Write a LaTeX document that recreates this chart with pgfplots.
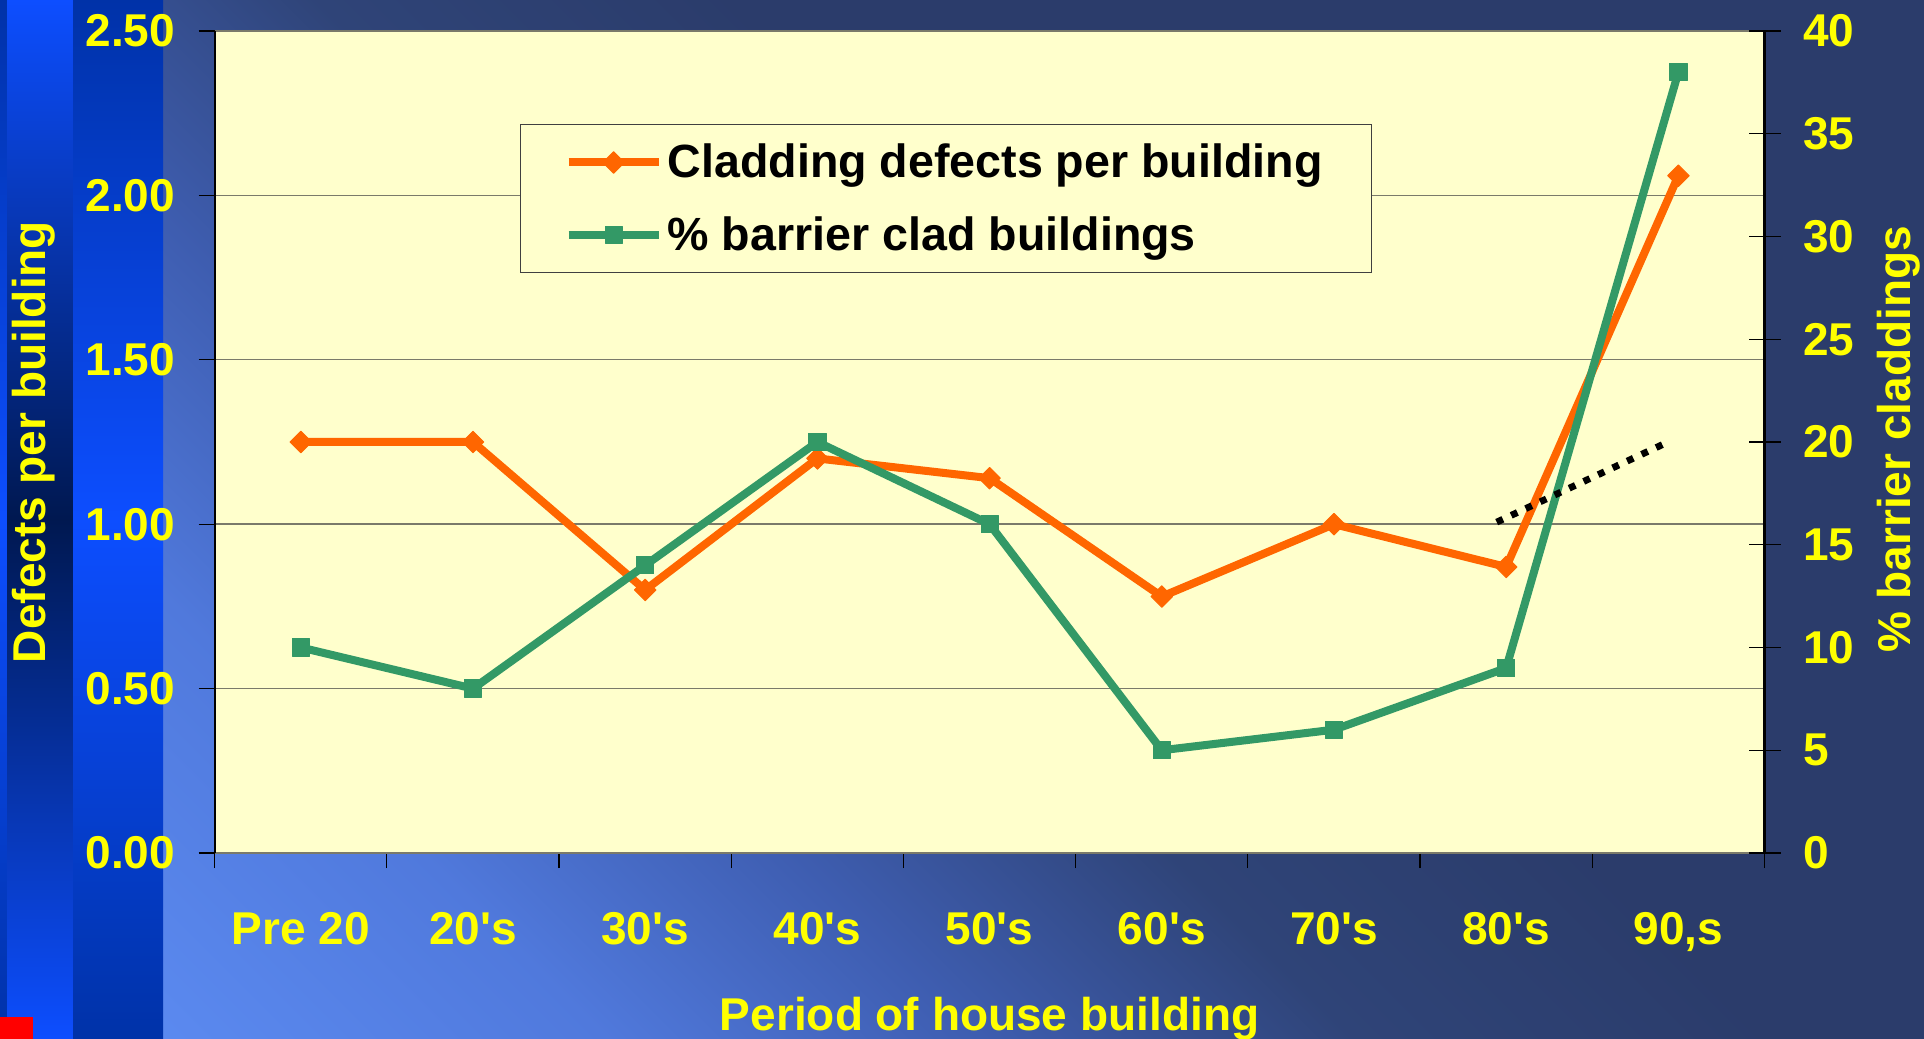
\documentclass[border=0pt]{standalone}
\usepackage{fontspec}
\setmainfont{Liberation Sans}
\usepackage{pgfplots}
\pgfplotsset{compat=1.18}
\definecolor{plotbg}{HTML}{FFFFCC}
\definecolor{orangeL}{HTML}{FF6600}
\definecolor{greenL}{HTML}{339966}
\definecolor{txtY}{HTML}{FFFF00}
\definecolor{gridc}{HTML}{7A7A6A}
\definecolor{bgA}{HTML}{5D8DF4}
\definecolor{bgB}{HTML}{5079DC}
\definecolor{bgC}{HTML}{3E5DB0}
\definecolor{bgD}{HTML}{2F4478}
\definecolor{bgE}{HTML}{2B3C6B}
\definecolor{stripDark}{HTML}{0032A8}
\definecolor{stripBright}{HTML}{0D4EFF}
\definecolor{stripNavy}{HTML}{001850}
\pgfdeclareverticalshading{bgshade}{100bp}{color(0bp)=(bgA); color(16bp)=(bgA); color(29bp)=(bgB); color(38bp)=(bgC); color(47bp)=(bgD); color(57bp)=(bgE); color(100bp)=(bgE)}
\newcommand{\lbl}{\fontsize{23}{27}\selectfont\bfseries}
\newcommand{\lgd}{\fontsize{23.3}{27}\selectfont\bfseries}
\tikzset{
  orangestyle/.style={color=orangeL, line width=4pt, line join=round, mark=square*, mark size=3.8pt, mark options={rotate=45, line width=0.5pt, solid}},
  greenstyle/.style={color=greenL, line width=4pt, line join=round, mark=square*, mark size=4.3pt, mark options={line width=0.5pt, solid}}
}
\begin{document}
\begin{tikzpicture}[x=1pt,y=1pt]
\shade[shading=bgshade, shading angle=-45] (0,0) rectangle (962,519.5);
\shade[top color=stripDark, bottom color=stripDark, middle color=stripBright] (0,0) rectangle (3.5,519.5);
\shade[top color=stripBright, bottom color=stripBright, middle color=stripNavy] (3.5,0) rectangle (36.5,519.5);
\shade[top color=stripDark, bottom color=stripDark, middle color=stripBright] (36.5,0) rectangle (81.5,519.5);
\fill[red] (0,0) rectangle (16.5,11);

\begin{axis}[
  at={(107.35pt,93pt)}, anchor=south west, scale only axis, width=774.9pt, height=411pt,
  xmin=-0.5, xmax=8.5, ymin=0, ymax=2.5,
  axis background/.style={fill=plotbg},
  separate axis lines,
  x axis line style={draw=gridc, line width=0.7pt},
  y axis line style={draw=black, line width=1.1pt},
  xtick={0,...,8},
  xticklabels={Pre 20,20\textquotesingle s,30\textquotesingle s,40\textquotesingle s,50\textquotesingle s,60\textquotesingle s,70\textquotesingle s,80\textquotesingle s,{90,s}},
  minor xtick={-0.5,0.5,...,8.5},
  ytick={0,0.5,...,2.5},
  xtick pos=left, ytick pos=left,
  tick align=outside,
  major tick length=8pt, minor tick length=7.5pt,
  major x tick style={draw=none},
  minor x tick style={draw=black, line width=0.6pt},
  major y tick style={draw=black, line width=0.6pt},
  ymajorgrids, major grid style={draw=gridc, line width=0.7pt},
  ticklabel style={font=\lbl, text=txtY},
  /pgf/number format/assume math mode=true,
  yticklabel={\pgfmathprintnumber[fixed,fixed zerofill,precision=2]{\tick}},
  yticklabel style={anchor=east, inner sep=0pt, xshift=-11.65pt},
  xticklabel style={anchor=base, inner sep=0pt, yshift=-37.7pt},
  ylabel={Defects per building},
  ylabel style={at={(axis description cs:-0.1166,0.5)}, anchor=center, font=\lbl, text=txtY},
  xlabel={Period of house building},
  xlabel style={at={(axis description cs:0.5,-0.2165)}, anchor=base, font=\lbl, text=txtY},
]
\addplot[orangestyle] coordinates {(0,1.25) (1,1.25) (2,0.80) (3,1.20) (4,1.14) (5,0.78) (6,1.00) (7,0.87) (8,2.06)};
\end{axis}

\begin{axis}[
  at={(107.35pt,93pt)}, anchor=south west, scale only axis, width=774.9pt, height=411pt,
  xmin=-0.5, xmax=8.5, ymin=0, ymax=40,
  axis x line=none, axis y line*=right,
  y axis line style={draw=black, line width=1.1pt},
  ytick={0,5,...,40},
  tick align=center, major tick length=16pt,
  major y tick style={draw=black, line width=0.6pt},
  /pgf/number format/assume math mode=true,
  yticklabel style={font=\lbl, text=txtY, anchor=west, inner sep=0pt, xshift=11.25pt},
  ylabel={\% barrier claddings},
  ylabel style={at={(axis description cs:1.0868,0.503)}, anchor=center, font=\lbl, text=txtY},
  legend style={at={(0.197,0.887)}, anchor=north west, fill=plotbg, draw=black!75, line width=0.6pt,
    font=\lgd, text=black, inner xsep=22pt, inner ysep=7.3pt, row sep=12.7pt, nodes={inner sep=2.5pt}},
  legend cell align=left,
  legend image code/.code={\draw[mark repeat=2, mark phase=2, #1] plot coordinates {(0pt,0pt) (22.5pt,0pt) (45pt,0pt)};},
]
\addlegendimage{orangestyle}
\addlegendentry{Cladding defects per building}
\addplot[greenstyle] coordinates {(0,10) (1,8) (2,14) (3,20) (4,16) (5,5) (6,6) (7,9) (8,38)};
\addlegendentry{\% barrier clad buildings}
\addplot[black, line width=3.4pt, dash pattern=on 3.4pt off 4.6pt, forget plot] coordinates {(6.945,16.1) (7.94,20.0)};
\end{axis}
\pgfresetboundingbox
\path[use as bounding box] (0,0) rectangle (962,519.5);
\end{tikzpicture}
\end{document}
